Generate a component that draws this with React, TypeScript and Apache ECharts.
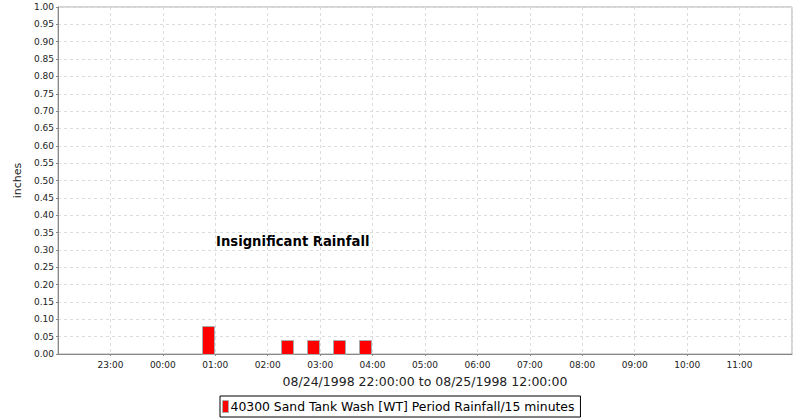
import React, { useEffect, useRef } from "react";
import * as echarts from "echarts";

const rangeStart = "08/24/1998 22:00";
const rangeEnd = "08/25/1998 12:00";
const axisTitle = "08/24/1998 22:00:00 to 08/25/1998 12:00:00";
const seriesName = "40300 Sand Tank Wash [WT] Period Rainfall/15 minutes";
const annotationText = "Insignificant Rainfall";
const periodMinutes = 15;
const periodEnds = [
  "08/25/1998 01:00",
  "08/25/1998 02:30",
  "08/25/1998 03:00",
  "08/25/1998 03:30",
  "08/25/1998 04:00",
];
const rainfall = [0.08, 0.04, 0.04, 0.04, 0.04];

function parseTime(s: string): number {
  const [d, t] = s.split(" ");
  const [mm, dd, yyyy] = d.split("/").map(Number);
  const [hh, mi] = t.split(":").map(Number);
  return Date.UTC(yyyy, mm - 1, dd, hh, mi);
}

const startMs = parseTime(rangeStart);
const startHour = new Date(startMs).getUTCHours();
const toHours = (s: string) => (parseTime(s) - startMs) / 3600000;
const spanHours = toHours(rangeEnd);

const FONT = "'DejaVu Sans', sans-serif";

export default function App() {
  const ref = useRef<HTMLDivElement>(null);
  useEffect(() => {
    if (!ref.current) return;
    const chart = echarts.init(ref.current, null, { renderer: "svg" });
    const data = periodEnds.map((p, i) => [toHours(p), rainfall[i]]);
    const periodH = periodMinutes / 60;
    chart.setOption({
      animation: false,
      backgroundColor: "#fff",
      textStyle: { fontFamily: FONT },
      grid: {
        left: 58,
        top: 7,
        right: 8,
        bottom: 66,
        show: true,
        borderColor: "#aaaaaa",
        borderWidth: 1,
      },
      legend: {
        left: 220,
        top: 396,
        orient: "horizontal",
        icon: "rect",
        itemWidth: 6,
        itemHeight: 12,
        itemGap: 2,
        padding: [4, 6, 4, 2],
        borderColor: "#000",
        borderWidth: 1,
        borderRadius: 0,
        textStyle: { fontFamily: FONT, fontSize: 12.4, color: "#000", padding: [0, 0, 0, -3] },
        data: [{ name: seriesName, itemStyle: { color: "#ff0000", borderColor: "#aaaaaa", borderWidth: 1 } }],
      },
      xAxis: {
        type: "value",
        min: 0,
        max: spanHours,
        interval: 1,
        name: axisTitle,
        nameLocation: "middle",
        nameGap: 21,
        nameTextStyle: { fontFamily: FONT, fontSize: 12.5, color: "#222" },
        axisLine: { lineStyle: { color: "#888888" } },
        axisTick: { show: true, length: 2, lineStyle: { color: "#888888" } },
        axisLabel: {
          fontFamily: FONT,
          fontSize: 9,
          color: "#222",
          margin: 6,
          showMinLabel: false,
          showMaxLabel: false,
          formatter: (v: number) => String((startHour + v) % 24).padStart(2, "0") + ":00",
        },
        splitLine: { show: true, lineStyle: { color: "#dddddd", type: [3, 3] } },
      },
      yAxis: {
        type: "value",
        min: 0,
        max: 1,
        interval: 0.05,
        name: "inches",
        nameLocation: "middle",
        nameRotate: 90,
        nameGap: 34,
        nameTextStyle: { fontFamily: FONT, fontSize: 11, color: "#222" },
        axisLine: { show: true, lineStyle: { color: "#888888" } },
        axisTick: { show: true, length: 2, lineStyle: { color: "#888888" } },
        axisLabel: {
          fontFamily: FONT,
          fontSize: 9,
          color: "#222",
          margin: 4,
          formatter: (v: number) => v.toFixed(2),
        },
        splitLine: { show: true, lineStyle: { color: "#dddddd", type: [3, 3] } },
      },
      graphic: [
        {
          type: "text",
          left: 216,
          top: 235,
          style: {
            text: annotationText,
            fontFamily: FONT,
            fontWeight: "bold",
            fontSize: 13.2,
            fill: "#000",
          },
        },
      ],
      series: [
        {
          name: seriesName,
          type: "custom",
          itemStyle: { color: "#ff0000" },
          encode: { x: 0, y: 1 },
          data,
          renderItem: (params: any, api: any) => {
            const end = api.value(0);
            const v = api.value(1);
            const p1 = api.coord([end - periodH, v]);
            const p2 = api.coord([end, 0]);
            return {
              type: "rect",
              shape: {
                x: Math.round(p1[0]) + 0.5,
                y: Math.round(p1[1]) + 0.5,
                width: Math.round(p2[0] - p1[0]) - 1,
                height: Math.round(p2[1] - p1[1]),
              },
              style: { fill: "#ff0000", stroke: "#aaaaaa", lineWidth: 1 },
            };
          },
        },
      ],
    });
    return () => chart.dispose();
  }, []);
  return <div ref={ref} style={{ width: 800, height: 420, position: "absolute", left: 0, top: 0 }} />;
}
